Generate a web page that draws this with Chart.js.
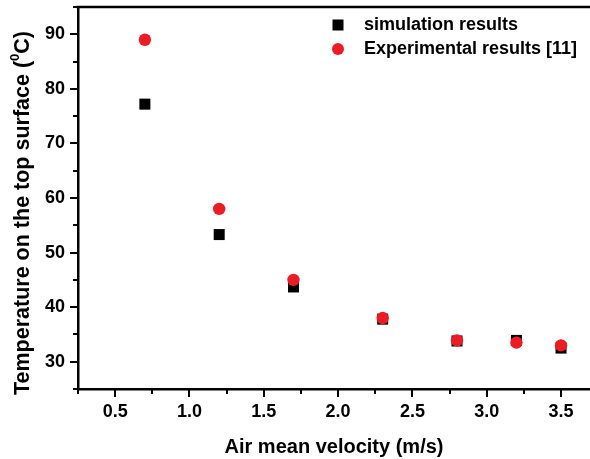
<!DOCTYPE html>
<html>
<head>
<meta charset="utf-8">
<script src="https://cdn.jsdelivr.net/npm/chart.js@4.4.1/dist/chart.umd.min.js"></script>
<style>
  html, body { margin: 0; padding: 0; background: #fff; }
  #wrap { width: 590px; height: 459px; }
</style>
</head>
<body>
<div id="wrap"><canvas id="chart" width="590" height="459"></canvas></div>
<script>
// values
const velocity = [0.7, 1.2, 1.7, 2.3, 2.8, 3.2, 3.5];
const simulationTemp = [77.2, 53.3, 43.7, 37.8, 33.8, 33.9, 32.5];
const experimentalTemp = [89.0, 58.0, 45.0, 38.0, 33.9, 33.5, 33.0];
const xTicks = [0.5, 1.0, 1.5, 2.0, 2.5, 3.0, 3.5];
const yTicks = [30, 40, 50, 60, 70, 80, 90];
const seriesNames = ["simulation results", "Experimental results [11]"];

const FONT = "'Liberation Sans', Arial, Helvetica, sans-serif";
const RED = "#ec1c24";
Chart.defaults.font.family = FONT;
Chart.defaults.color = "#000";

const toPoints = (ys) => velocity.map((v, i) => ({ x: v, y: ys[i] }));

// no extra room for labels hanging over the ends
const noOverhang = (s) => {
  s.paddingTop = 0; s.paddingBottom = 0;
  s.paddingLeft = 0; s.paddingRight = 0;
};

// top frame line, outward major/minor ticks, y title with superscript, legend
const decorations = {
  id: "decorations",
  afterDraw(chart) {
    const { ctx, chartArea: a, scales } = chart;
    const xs = scales.x, ys = scales.y;
    ctx.save();
    ctx.strokeStyle = "#000";
    ctx.lineWidth = 2.5;

    ctx.beginPath();
    ctx.moveTo(a.left - 1.5, a.top);
    ctx.lineTo(a.right, a.top);
    ctx.stroke();

    ctx.lineWidth = 2;
    const xMinor = [xTicks[0] - 0.25, ...xTicks.map((v) => v + 0.25)];
    xTicks.forEach((v) => {
      const px = Math.round(xs.getPixelForValue(v));
      ctx.beginPath(); ctx.moveTo(px, a.bottom); ctx.lineTo(px, a.bottom + 8); ctx.stroke();
    });
    xMinor.forEach((v) => {
      if (v < xs.min || v > xs.max) return;
      const px = Math.round(xs.getPixelForValue(v));
      ctx.beginPath(); ctx.moveTo(px, a.bottom); ctx.lineTo(px, a.bottom + 5); ctx.stroke();
    });

    const yMinor = [yTicks[0] - 5, ...yTicks.map((v) => v + 5)];
    yTicks.forEach((v) => {
      const py = Math.round(ys.getPixelForValue(v));
      ctx.beginPath(); ctx.moveTo(a.left, py); ctx.lineTo(a.left - 8, py); ctx.stroke();
    });
    yMinor.forEach((v) => {
      if (v < ys.min || v > ys.max) return;
      const py = Math.round(ys.getPixelForValue(v));
      ctx.beginPath(); ctx.moveTo(a.left, py); ctx.lineTo(a.left - 5, py); ctx.stroke();
    });

    // y axis title
    ctx.fillStyle = "#000";
    ctx.textBaseline = "middle";
    ctx.textAlign = "left";
    const main = "Temperature on the top surface (";
    const tail = "C)";
    const big = "bold 21.5px " + FONT, small = "bold 13px " + FONT;
    ctx.font = big;
    const w1 = ctx.measureText(main).width, w3 = ctx.measureText(tail).width;
    ctx.font = small;
    const w2 = ctx.measureText("0").width;
    const total = w1 + w2 + w3;
    ctx.translate(23, 213);
    ctx.rotate(-Math.PI / 2);
    let sx = -total / 2;
    ctx.font = big; ctx.fillText(main, sx, 0);
    ctx.font = small; ctx.fillText("0", sx + w1, -8);
    ctx.font = big; ctx.fillText(tail, sx + w1 + w2, 0);
    ctx.setTransform(1, 0, 0, 1, 0, 0);

    // legend
    ctx.font = "bold 18px " + FONT;
    ctx.fillStyle = "#000";
    ctx.fillRect(338 - 5.5, 25 - 5.5, 11, 11);
    ctx.fillText(seriesNames[0], 364, 25);
    ctx.fillStyle = RED;
    ctx.beginPath(); ctx.arc(338, 49, 6, 0, Math.PI * 2); ctx.fill();
    ctx.fillStyle = "#000";
    ctx.fillText(seriesNames[1], 364, 49);
    ctx.restore();
  }
};

new Chart(document.getElementById("chart"), {
  type: "scatter",
  data: {
    datasets: [
      {
        label: seriesNames[0],
        data: toPoints(simulationTemp),
        pointStyle: "rect",
        pointRadius: 7.8,
        pointBorderWidth: 0,
        backgroundColor: "#000",
        borderColor: "#000",
        order: 2,
      },
      {
        label: seriesNames[1],
        data: toPoints(experimentalTemp),
        pointStyle: "circle",
        pointRadius: 6.2,
        pointBorderWidth: 0,
        backgroundColor: RED,
        borderColor: RED,
        order: 1,
      },
    ],
  },
  options: {
    responsive: false,
    animation: false,
    layout: { autoPadding: false, padding: { top: 7, right: 0, left: 0, bottom: 0 } },
    plugins: {
      legend: { display: false },
      tooltip: { enabled: false },
    },
    scales: {
      x: {
        type: "linear",
        min: 0.25,
        max: 3.695,
        afterBuildTicks: (s) => { s.ticks = xTicks.map((v) => ({ value: v })); },
        afterFit: (s) => { s.height = 70; noOverhang(s); },
        grid: { display: false, drawTicks: false },
        border: { display: true, color: "#000", width: 2.5 },
        ticks: {
          padding: 12,
          font: { size: 18, weight: "bold" },
          callback: (v) => Number(v).toFixed(1),
        },
        title: {
          display: true,
          text: "Air mean velocity (m/s)",
          font: { size: 20, weight: "bold" },
          padding: { top: 0, bottom: 0 },
        },
      },
      y: {
        type: "linear",
        min: 25,
        max: 95,
        afterBuildTicks: (s) => { s.ticks = yTicks.map((v) => ({ value: v })); },
        afterFit: (s) => { s.width = 78; noOverhang(s); },
        grid: { display: false, drawTicks: false },
        border: { display: true, color: "#000", width: 2.5 },
        ticks: {
          padding: 13,
          font: { size: 18, weight: "bold" },
        },
      },
    },
  },
  plugins: [decorations],
});
</script>
</body>
</html>
